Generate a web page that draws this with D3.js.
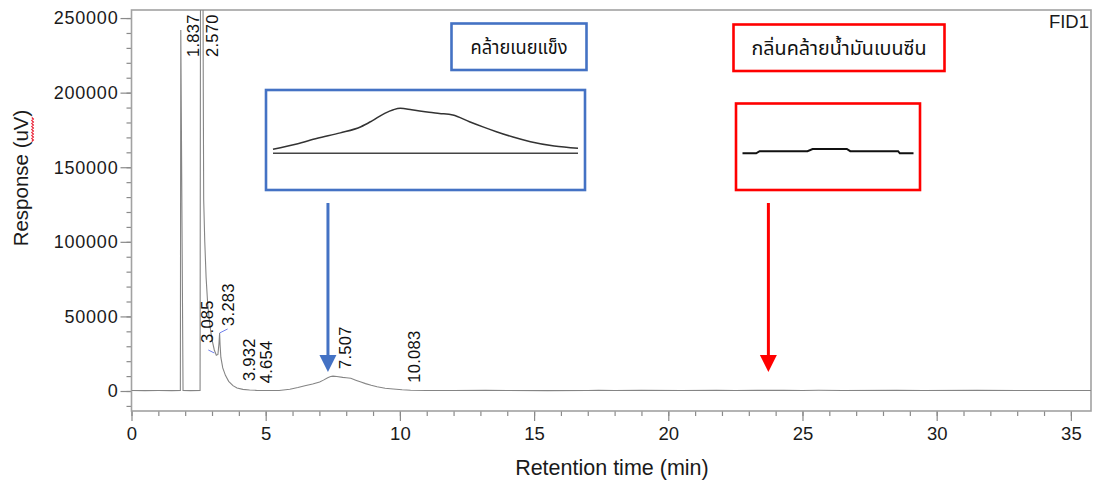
<!DOCTYPE html>
<html>
<head>
<meta charset="utf-8">
<script src="https://cdn.jsdelivr.net/npm/d3@7"></script>
<style>
  body { margin: 0; background: #fff; }
  svg { display: block; }
  text { font-family: "Liberation Sans", Arial, Helvetica, sans-serif; }
  .thai { font-family: "Noto Sans Thai", "Noto Sans Thai UI", Tahoma, "Noto Sans", "DejaVu Sans", sans-serif; }
</style>
</head>
<body>
<svg id="chart" width="1095" height="482"></svg>
<script>
// FID1 chromatogram: retention time (min) and detector response (µV)
const retentionTime = [
  0.00, 0.50, 1.00, 1.50, 1.820, 1.837, 1.920, 2.20, 2.555, 2.570,
  2.665, 2.675, 2.690, 2.73, 2.78, 2.84, 2.92, 3.00, 3.085,
  3.16, 3.22, 3.26, 3.283, 3.30, 3.33, 3.40, 3.50, 3.62, 3.78,
  3.932, 4.15, 4.40, 4.654, 5.00, 5.50, 5.90, 6.20, 6.46, 6.75,
  7.01, 7.15, 7.31, 7.42, 7.507, 7.65, 7.87, 8.00, 8.17, 8.38,
  8.55, 8.72, 8.93, 9.15, 9.45, 9.75, 10.083, 10.40, 11.00, 12.00,
  13.20, 14.00, 15.50, 17.00, 17.40, 18.00, 19.00, 20.50, 21.80, 22.50,
  23.30, 23.38, 23.40, 23.68, 23.71, 23.91, 23.93, 24.21, 24.22, 24.30,
  25.00, 25.60, 26.50, 28.50, 29.50, 31.50, 33.00, 34.50, 35.75
];
const response = [
  300, 250, 300, 280, 300, 242000, 300, 280, 300, 262000,
  262000, 200000, 128000, 100000, 76000, 58000, 44000, 34500, 27500,
  24000, 24500, 32000, 38900, 31000, 22500, 15500, 10500, 6500, 3600,
  2000, 1100, 650, 450, 350, 300, 1160, 2300, 3530, 4700,
  6030, 7300, 8920, 9700, 10000, 9700, 9140, 8900, 8560, 7110,
  6000, 4960, 3800, 2800, 1870, 1380, 800, 500, 350, 300,
  450, 300, 280, 320, 480, 300, 420, 300, 420, 380,
  420, 420, 430, 430, 440, 440, 430, 430, 420, 420,
  350, 480, 330, 420, 300, 400, 300, 330, 300
];

// Integrated peaks reported by the data system
const peakTimes = [1.837, 2.570, 3.085, 3.283, 3.932, 4.654, 7.507, 10.083];

// Axis ticks
const xTicks = [0, 5, 10, 15, 20, 25, 30, 35];
const yTicks = [0, 50000, 100000, 150000, 200000, 250000];

// Odour descriptors, the time each one points to, and the zoomed window shown for it
const odourLabels = ["คล้ายเนยแข็ง", "กลิ่นคล้ายน้ำมันเบนซีน"];
const odourColors = ["#4472c4", "#ff0000"];
const odourTimes = [7.32, 23.73];
const zoomWindows = [[5.90, 9.75], [23.30, 24.30]];
const zoomRanges = [[300, 10000], [420, 440]];

const trace = retentionTime.map((t, i) => ({ t, v: response[i] }));

const svg = d3.select("#chart");
svg.append("rect").attr("width", 1095).attr("height", 482).attr("fill", "#fff");

const plot = { left: 131.5, right: 1091, top: 10, bottom: 411 };
const x = d3.scaleLinear().domain([0, 35.75]).range([plot.left, plot.right]);
const y = d3.scaleLinear().domain([-13400, 255400]).range([plot.bottom, plot.top]);

// ---- axes ----
const tickColor = "#8a8a8a";
function styleAxis(g, size, spacing) {
  g.select(".domain").remove();
  g.selectAll(".tick line").attr("stroke", tickColor).attr("stroke-width", 1.2);
  g.selectAll(".tick text").attr("fill", "#1a1a1a").attr("font-size", size)
    .attr("letter-spacing", spacing || 0);
}

svg.append("g")
  .attr("transform", `translate(${plot.left},0)`)
  .call(d3.axisLeft(y).tickValues(d3.range(-10000, 255001, 10000)).tickSize(5).tickFormat(""))
  .call(g => styleAxis(g, 0));
svg.append("g")
  .attr("transform", `translate(${plot.left},0)`)
  .call(d3.axisLeft(y).tickValues(yTicks).tickSize(11).tickPadding(2).tickFormat(d3.format("d")))
  .call(g => styleAxis(g, 18, 0.8));

svg.append("g")
  .attr("transform", `translate(0,${plot.bottom})`)
  .call(d3.axisBottom(x).tickValues(d3.range(0, 36, 1)).tickSize(5).tickFormat(""))
  .call(g => styleAxis(g, 0));
svg.append("g")
  .attr("transform", `translate(0,${plot.bottom})`)
  .call(d3.axisBottom(x).tickValues(xTicks).tickSize(10).tickPadding(6).tickFormat(d3.format("d")))
  .call(g => styleAxis(g, 18.5));

// frame
svg.append("rect")
  .attr("x", plot.left).attr("y", plot.top)
  .attr("width", plot.right - plot.left).attr("height", plot.bottom - plot.top)
  .attr("fill", "none").attr("stroke", "#a2a2a2").attr("stroke-width", 1.6);

// axis titles
svg.append("text")
  .attr("x", x(17.9)).attr("y", 475)
  .attr("text-anchor", "middle").attr("font-size", 21.5).attr("fill", "#1a1a1a")
  .text("Retention time (min)");

const yTitleG = svg.append("g").attr("transform", "translate(28,178) rotate(-90)");
const yTitle = yTitleG.append("text")
  .attr("text-anchor", "middle").attr("font-size", 20.5).attr("fill", "#1a1a1a")
  .text("Response (uV)");
{
  // spell-check squiggle under the unit
  const node = yTitle.node();
  const total = node.getComputedTextLength();
  const start = -total / 2 + node.getSubStringLength(0, 10);
  const w = node.getSubStringLength(10, 2);
  const pts = d3.range(0, Math.floor(w / 1.5) + 1).map(i => [start + i * 1.5, 4 + (i % 2 ? 1.4 : -0.2)]);
  yTitleG.append("path").attr("d", d3.line()(pts))
    .attr("fill", "none").attr("stroke", "#e8152a").attr("stroke-width", 1.1);
}

svg.append("text")
  .attr("x", plot.right - 2).attr("y", 28)
  .attr("text-anchor", "end").attr("font-size", 18.5).attr("fill", "#1a1a1a")
  .text("FID1");

// ---- trace ----
svg.append("clipPath").attr("id", "plotClip")
  .append("rect").attr("x", plot.left).attr("y", plot.top)
  .attr("width", plot.right - plot.left).attr("height", plot.bottom - plot.top);

svg.append("path")
  .datum(trace)
  .attr("clip-path", "url(#plotClip)")
  .attr("d", d3.line().x(d => x(d.t)).y(d => y(d.v)))
  .attr("fill", "none").attr("stroke", "#858585").attr("stroke-width", 1.1);

// integration baseline ticks for the two partially resolved peaks
const valueAt = t => trace.find(d => d.t === t).v;
[[3.085, -6, 0, 0, 3], [3.283, 0, 0, 8, -4]].forEach(([t, dx0, dy0, dx1, dy1]) => {
  const px = x(t), py = y(valueAt(t));
  svg.append("line")
    .attr("x1", px + dx0).attr("y1", py + dy0)
    .attr("x2", px + dx1).attr("y2", py + dy1)
    .attr("stroke", "#7080ea").attr("stroke-width", 1);
});

// peak retention-time labels
const labelShift = { 3.085: -1, 3.283: 14, 4.654: 16 };
peakTimes.forEach(t => {
  const px = x(t) + (labelShift[t] !== undefined ? labelShift[t] : 18);
  const py = Math.max(y(valueAt(t)) - 7, plot.top + 47);
  svg.append("text")
    .attr("transform", `translate(${px},${py}) rotate(-90)`)
    .attr("font-size", 16.5).attr("letter-spacing", 0.3).attr("fill", "#111")
    .text(t.toFixed(3));
});

// ---- odour callouts: label box, zoomed trace window, arrow ----
const labelBoxes = [
  { x: 451.5, y: 23.5, w: 135, h: 46.5, tw: 97 },
  { x: 733.5, y: 24.5, w: 211, h: 46.5, tw: 175 }
];
const zoomBoxes = [
  { x: 266, y: 90, w: 319, h: 100, pad: 7, base: 153.3, peak: 108.3 },
  { x: 736, y: 103.5, w: 184, h: 86.5, pad: 6.5, base: 153.3, peak: 149 }
];

odourLabels.forEach((label, i) => {
  const color = odourColors[i];
  const lb = labelBoxes[i];
  svg.append("rect")
    .attr("x", lb.x).attr("y", lb.y).attr("width", lb.w).attr("height", lb.h)
    .attr("fill", "#fff").attr("stroke", color).attr("stroke-width", 2.6);
  svg.append("text")
    .attr("class", "thai")
    .attr("x", lb.x + lb.w / 2).attr("y", lb.y + lb.h / 2 + 7)
    .attr("text-anchor", "middle").attr("font-size", 19).attr("fill", "#111")
    .attr("textLength", lb.tw).attr("lengthAdjust", "spacingAndGlyphs")
    .text(label);

  const zb = zoomBoxes[i];
  svg.append("rect")
    .attr("x", zb.x).attr("y", zb.y).attr("width", zb.w).attr("height", zb.h)
    .attr("fill", "#fff").attr("stroke", color).attr("stroke-width", 2.6);

  const [t0, t1] = zoomWindows[i];
  const zx = d3.scaleLinear().domain([t0, t1]).range([zb.x + zb.pad, zb.x + zb.w - zb.pad]);
  const zy = d3.scaleLinear().domain(zoomRanges[i]).range([zb.base, zb.peak]);
  const seg = trace.filter(d => d.t >= t0 && d.t <= t1);
  if (i === 0) {
    svg.append("line")
      .attr("x1", zx(t0)).attr("x2", zx(t1))
      .attr("y1", zy(zoomRanges[i][0])).attr("y2", zy(zoomRanges[i][0]))
      .attr("stroke", "#444").attr("stroke-width", 1.4);
  }
  svg.append("path")
    .datum(seg)
    .attr("d", d3.line().x(d => zx(d.t)).y(d => zy(d.v)).curve(i === 0 ? d3.curveMonotoneX : d3.curveLinear))
    .attr("fill", "none").attr("stroke", i === 0 ? "#333" : "#111")
    .attr("stroke-width", i === 0 ? 1.5 : 2);

  // arrow down to the trace
  const ax = x(odourTimes[i]);
  const top = 190 + 13, tip = 372, headLen = 17, headHalf = 8.5;
  svg.append("line")
    .attr("x1", ax).attr("x2", ax).attr("y1", top).attr("y2", tip - headLen + 1)
    .attr("stroke", color).attr("stroke-width", 3);
  svg.append("path")
    .attr("d", `M${ax - headHalf},${tip - headLen}L${ax + headHalf},${tip - headLen}L${ax},${tip}Z`)
    .attr("fill", color);
});
</script>
</body>
</html>
